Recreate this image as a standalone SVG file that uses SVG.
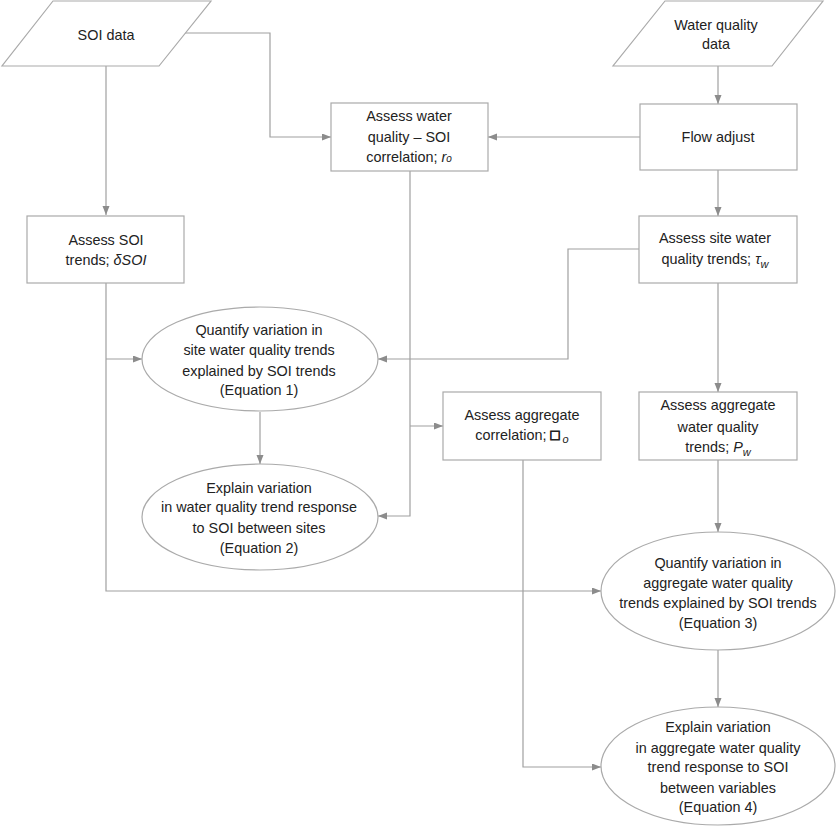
<svg xmlns="http://www.w3.org/2000/svg" width="837" height="827" viewBox="0 0 837 827">
<style>
.shape{fill:#fff;stroke:#aaa;stroke-width:1.2}
.conn{fill:none;stroke:#a0a0a0;stroke-width:1.2}
text{font-family:"Liberation Sans",Arial,sans-serif;font-size:14.4px;fill:#222;text-anchor:middle}
.it{font-style:italic}
</style>
<defs>
<marker id="ah" markerUnits="userSpaceOnUse" markerWidth="10" markerHeight="8" refX="9" refY="3.5" orient="auto">
<path d="M0,0 L9,3.5 L0,7 z" fill="#8c8c8c"/>
</marker>
</defs>
<rect width="837" height="827" fill="#fff"/>
<g id="connectors">
<path class="conn" d="M106,66 V215" marker-end="url(#ah)"/>
<path class="conn" d="M185,33 H270 V137 H331" marker-end="url(#ah)"/>
<path class="conn" d="M640,137 H488" marker-end="url(#ah)"/>
<path class="conn" d="M718,66 V104" marker-end="url(#ah)"/>
<path class="conn" d="M718,170 V216" marker-end="url(#ah)"/>
<path class="conn" d="M639,249 H568 V359 H378" marker-end="url(#ah)"/>
<path class="conn" d="M410,171 V516 H378" marker-end="url(#ah)"/>
<path class="conn" d="M410,426 H443" marker-end="url(#ah)"/>
<path class="conn" d="M106,283 V591 H601" marker-end="url(#ah)"/>
<path class="conn" d="M106,359 H142" marker-end="url(#ah)"/>
<path class="conn" d="M260,412 V464" marker-end="url(#ah)"/>
<path class="conn" d="M718,283 V392" marker-end="url(#ah)"/>
<path class="conn" d="M718,460 V532" marker-end="url(#ah)"/>
<path class="conn" d="M718,650 V707" marker-end="url(#ah)"/>
<path class="conn" d="M523,460 V767 H601" marker-end="url(#ah)"/>
</g>
<g id="soi-data">
<polygon class="shape" points="53,1 211,1 159,66 2,66"/>
<text x="106" y="40">SOI data</text>
</g>
<g id="wq-data">
<polygon class="shape" points="665,1 823,1 772,66 613,66"/>
<text x="716" y="30">Water quality</text>
<text x="716" y="49">data</text>
</g>
<g id="flow-adjust">
<rect class="shape" x="640" y="104" width="157" height="66"/>
<text x="718" y="142">Flow adjust</text>
</g>
<g id="wq-soi-corr">
<rect class="shape" x="331" y="103" width="157" height="68"/>
<text x="409" y="121">Assess water</text>
<text x="409" y="142">quality – SOI</text>
<text x="409" y="162">correlation; <tspan class="it">r</tspan><tspan class="it" font-size="10">o</tspan></text>
</g>
<g id="soi-trends">
<rect class="shape" x="27" y="216" width="157" height="67"/>
<text x="106" y="245">Assess SOI</text>
<text x="106" y="265">trends; <tspan class="it">δSOI</tspan></text>
</g>
<g id="site-trends">
<rect class="shape" x="639" y="216" width="158" height="67"/>
<text x="715" y="243">Assess site water</text>
<text x="715" y="264">quality trends; <tspan class="it">τ</tspan><tspan class="it" font-size="11" dy="4">w</tspan></text>
</g>
<g id="agg-corr">
<rect class="shape" x="443" y="392" width="158" height="68"/>
<text x="522" y="420">Assess aggregate</text>
<text x="522" y="440">correlation; <tspan font-size="15" stroke="#222" stroke-width="0.9">□</tspan><tspan class="it" font-size="11" dy="3"> o</tspan></text>
</g>
<g id="agg-trends">
<rect class="shape" x="639" y="392" width="158" height="68"/>
<text x="718" y="410">Assess aggregate</text>
<text x="718" y="432">water quality</text>
<text x="718" y="452">trends; <tspan class="it">P</tspan><tspan class="it" font-size="11" dy="4">w</tspan></text>
</g>
<g id="eq1">
<ellipse class="shape" cx="260" cy="359" rx="118" ry="52"/>
<text x="259" y="335">Quantify variation in</text>
<text x="259" y="355">site water quality trends</text>
<text x="259" y="376">explained by SOI trends</text>
<text x="259" y="395">(Equation 1)</text>
</g>
<g id="eq2">
<ellipse class="shape" cx="260" cy="517" rx="118" ry="53"/>
<text x="259" y="493">Explain variation</text>
<text x="259" y="512">in water quality trend response</text>
<text x="259" y="533">to SOI between sites</text>
<text x="259" y="553">(Equation 2)</text>
</g>
<g id="eq3">
<ellipse class="shape" cx="718" cy="591" rx="117" ry="59"/>
<text x="718" y="568">Quantify variation in</text>
<text x="718" y="588">aggregate water quality</text>
<text x="718" y="608">trends explained by SOI trends</text>
<text x="718" y="628">(Equation 3)</text>
</g>
<g id="eq4">
<ellipse class="shape" cx="718" cy="766" rx="117" ry="59"/>
<text x="718" y="732">Explain variation</text>
<text x="718" y="753">in aggregate water quality</text>
<text x="718" y="772">trend response to SOI</text>
<text x="718" y="793">between variables</text>
<text x="718" y="812">(Equation 4)</text>
</g>
</svg>
